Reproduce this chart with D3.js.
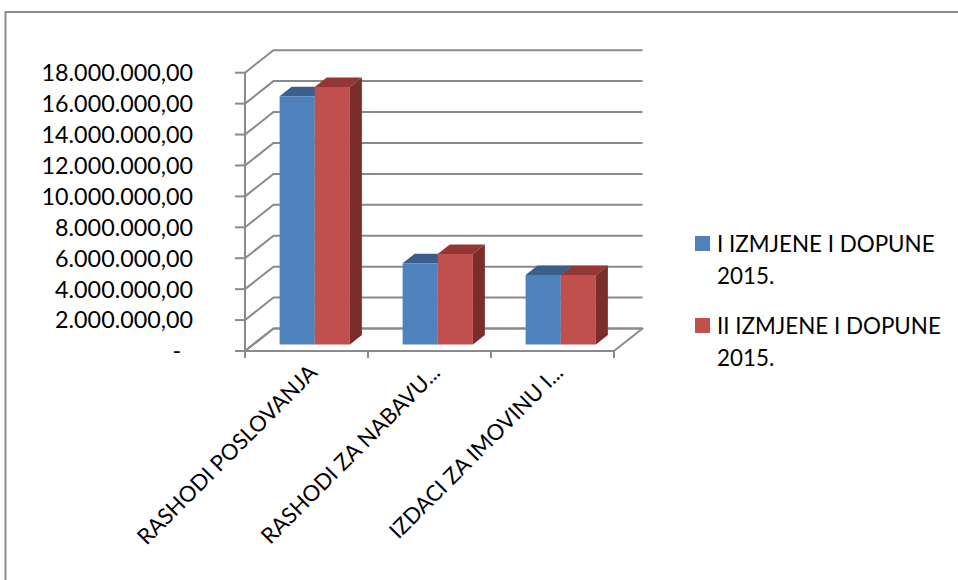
<!DOCTYPE html>
<html>
<head>
<meta charset="utf-8">
<script src="https://cdn.jsdelivr.net/npm/d3@7"></script>
<style>
  body { margin: 0; background: #fff; }
  text { font-family: Lato, "Liberation Sans", sans-serif; fill: #000; }
</style>
</head>
<body>
<div id="grafikon"></div>
<script>
// podaci
const kategorije = ["RASHODI POSLOVANJA", "RASHODI ZA NABAVU...", "IZDACI ZA IMOVINU I..."];
const serije = ["I IZMJENE I DOPUNE 2015.", "II IZMJENE I DOPUNE 2015."];
const izmjene1 = [16050000, 5250000, 4500000];
const izmjene2 = [16650000, 5850000, 4500000];
const yTickovi = [0, 2e6, 4e6, 6e6, 8e6, 10e6, 12e6, 14e6, 16e6, 18e6];

const boje = [
  { prednja: "#4F81BD", gornja: "#3A5F8D", bocna: "#2F4F78" },
  { prednja: "#C0504D", gornja: "#943634", bocna: "#7A2D2B" }
];

function crtajGrafikon() {
  const svg = d3.select("#grafikon").append("svg")
    .attr("width", 958)
    .attr("height", 580);

  // okvir
  svg.append("rect")
    .attr("x", 5.5).attr("y", 12)
    .attr("width", 970).attr("height", 600)
    .attr("fill", "#fff")
    .attr("stroke", "#8c8c8c")
    .attr("stroke-width", 2);

  const dubX = 28.5, dubY = -22.5;   // smjer dubine 3D prikaza
  const x = d3.scaleBand().domain(kategorije).range([245, 614]);
  const xs = d3.scaleBand().domain(serije).range([0, x.bandwidth()]).paddingOuter(0.75);
  const y = d3.scaleLinear().domain([0, 18e6]).range([351, 72.7]);
  const tPred = 0.29, tStr = 0.71;

  const fmt = d3.formatLocale({ decimal: ",", thousands: ".", grouping: [3], currency: ["", ""] }).format(",.2f");
  const siva = "#8a8a8a";

  // pod
  const pod = [[245, y(0)], [614, y(0)], [614 + dubX, y(0) + dubY], [245 + dubX, y(0) + dubY]];
  svg.append("path")
    .attr("d", d3.line()(pod) + "Z")
    .attr("fill", "#fff")
    .attr("stroke", siva)
    .attr("stroke-width", 2)
    .attr("stroke-linejoin", "round");

  // mreza: bocni zid + straznji zid
  svg.append("g").selectAll("path")
    .data(yTickovi)
    .join("path")
    .attr("d", d => d3.line()([[245, y(d)], [245 + dubX, y(d) + dubY], [614 + dubX, y(d) + dubY]]))
    .attr("fill", "none")
    .attr("stroke", siva)
    .attr("stroke-width", 2);

  // os y
  svg.append("line")
    .attr("x1", 245).attr("x2", 245)
    .attr("y1", y(18e6)).attr("y2", y(0) + 1)
    .attr("stroke", siva).attr("stroke-width", 2);

  svg.append("g").selectAll("line")
    .data(yTickovi)
    .join("line")
    .attr("x1", 235).attr("x2", 245)
    .attr("y1", d => y(d)).attr("y2", d => y(d))
    .attr("stroke", siva).attr("stroke-width", 2);

  svg.append("g").selectAll("text")
    .data(yTickovi)
    .join("text")
    .attr("x", 193)
    .attr("y", d => y(d))
    .attr("dy", "0.36em")
    .attr("text-anchor", "end")
    .style("font-size", "23.3px")
    .text(d => d === 0 ? "-\u00A0\u00A0" : fmt(d));

  // os x
  const xTickovi = kategorije.map(k => x(k)).concat([614]);
  svg.append("g").selectAll("line")
    .data(xTickovi)
    .join("line")
    .attr("x1", d => d).attr("x2", d => d)
    .attr("y1", y(0)).attr("y2", y(0) + 7)
    .attr("stroke", siva).attr("stroke-width", 2);

  svg.append("g").selectAll("text")
    .data(kategorije)
    .join("text")
    .attr("transform", d => `translate(${x(d) + x.bandwidth() / 2 + 12},${y(0) + 23}) rotate(-45)`)
    .attr("text-anchor", "end")
    .style("font-size", "22px")
    .text(d => d);

  // stupci
  const podaci = [];
  kategorije.forEach((k, i) => {
    podaci.push({ kat: k, serija: 0, v: izmjene1[i] });
    podaci.push({ kat: k, serija: 1, v: izmjene2[i] });
  });

  const stupci = svg.append("g").selectAll("g")
    .data(podaci)
    .join("g");

  const p = (xf, v, t) => [xf + dubX * t, y(v) + dubY * t];

  stupci.each(function(d) {
    const g = d3.select(this);
    const x0 = x(d.kat) + xs(serije[d.serija]);
    const x1 = x0 + xs.bandwidth();
    const b = boje[d.serija];
    // bocna strana
    g.append("path")
      .attr("d", d3.line()([p(x1, 0, tPred), p(x1, 0, tStr), p(x1, d.v, tStr), p(x1, d.v, tPred)]) + "Z")
      .attr("fill", b.bocna);
    // gornja strana
    g.append("path")
      .attr("d", d3.line()([p(x0, d.v, tPred), p(x1, d.v, tPred), p(x1, d.v, tStr), p(x0, d.v, tStr)]) + "Z")
      .attr("fill", b.gornja);
    // prednja strana
    g.append("path")
      .attr("d", d3.line()([p(x0, 0, tPred), p(x1, 0, tPred), p(x1, d.v, tPred), p(x0, d.v, tPred)]) + "Z")
      .attr("fill", b.prednja);
  });

  // legenda
  const legenda = svg.append("g").selectAll("g")
    .data(serije)
    .join("g")
    .attr("transform", (d, i) => `translate(695,${236 + i * 82})`);

  legenda.append("rect")
    .attr("width", 15).attr("height", 15)
    .attr("fill", (d, i) => boje[i].prednja);

  legenda.append("text")
    .attr("x", 22)
    .attr("y", 16)
    .style("font-size", "22.4px")
    .selectAll("tspan")
    .data(d => [d.replace(" 2015.", ""), "2015."])
    .join("tspan")
    .attr("x", 22)
    .attr("dy", (d, i) => i === 0 ? 0 : 31.5)
    .text(d => d);
}

crtajGrafikon();
</script>
</body>
</html>
